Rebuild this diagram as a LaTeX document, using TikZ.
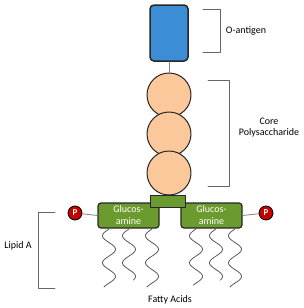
\documentclass[tikz,border=0pt]{standalone}
\usepackage{fontspec}
\setmainfont{Carlito}
\usetikzlibrary{positioning}
\definecolor{oblue}{HTML}{3B8ED6}
\definecolor{corepeach}{HTML}{FAC89B}
\definecolor{lipgreen}{HTML}{6B9B2E}
\definecolor{pred}{HTML}{C40000}
\begin{document}
\begin{tikzpicture}[x=1pt, y=-1pt, font=\fontsize{10}{12}\selectfont, line join=round, line cap=round,
	oblock/.style={draw=black!85, line width=1.5pt, fill=oblue, rounded corners=4pt, minimum width=38pt, minimum height=56pt, inner sep=0pt},
	sugar/.style={circle, draw=black!85, line width=1pt, fill=corepeach, minimum size=44pt, inner sep=0pt},
	gbox/.style={draw=black!85, line width=1.2pt, fill=lipgreen, rounded corners=3pt, minimum width=61pt, minimum height=25pt, text=white, align=center, inner sep=0pt},
	lnkbox/.style={draw=black!85, line width=1pt, fill=lipgreen, minimum width=35pt, minimum height=12pt, inner sep=0pt},
	phos/.style={circle, draw=black, line width=0.8pt, fill=pred, text=white, font=\fontsize{9}{9}\selectfont\bfseries, minimum size=14pt, inner sep=0pt},
	brk/.style={draw=gray!80!black, line width=0.8pt},
	link/.style={draw=gray, line width=0.8pt},
	fatty/.style={draw=gray!70!black, line width=0.8pt}]
	\useasboundingbox (0,0) rectangle (304,308);
	% O-antigen and core
	\node[oblock] (oant) at (169,33) {};
	\node[sugar] (s1) at (169,95) {};
	\node[sugar] (s2) at (169,134) {};
	\node[sugar] (s3) at (169,173) {};
	\draw[link] (oant.south) -- (s1.north);
	% lipid A
	\node[gbox] (gl1) at (128.5,215.5) {Glucos-\\amine};
	\node[gbox] (gl2) at (211.5,215.5) {Glucos-\\amine};
	\node[lnkbox] (lk) at (167.5,201) {};
	\node[phos] (p1) at (75,213) {P};
	\node[phos] (p2) at (266,213) {P};
	\draw[link] (p1) -- (gl1.west);
	\draw[link] (gl2.east) -- (p2);
	% fatty acid tails
	\foreach \xs/\len in {109/58, 129/51, 152/58, 196/56, 216/51, 235/58}
		\draw[fatty] plot[variable=\t, domain=0:\len, samples=60, smooth] ({\xs - 6.5*sin(\t*13.3)}, {229+\t});
	% brackets
	\draw[brk] (203,9) -- (220,9) -- (220,52) -- (203,52);
	\node (lbo) at (246,31) {O-antigen};
	\draw[brk] (208,80) -- (229,80) -- (229,186) -- (208,186);
	\node[align=center, font=\fontsize{10}{11}\selectfont] (lbc) at (269,128) {Core\\Polysaccharide};
	\draw[brk] (55,212) -- (38,212) -- (38,288) -- (55,288);
	\node (lbl) at (18,246) {Lipid A};
	\node (lbf) at (170,300) {Fatty Acids};
\end{tikzpicture}
\end{document}
